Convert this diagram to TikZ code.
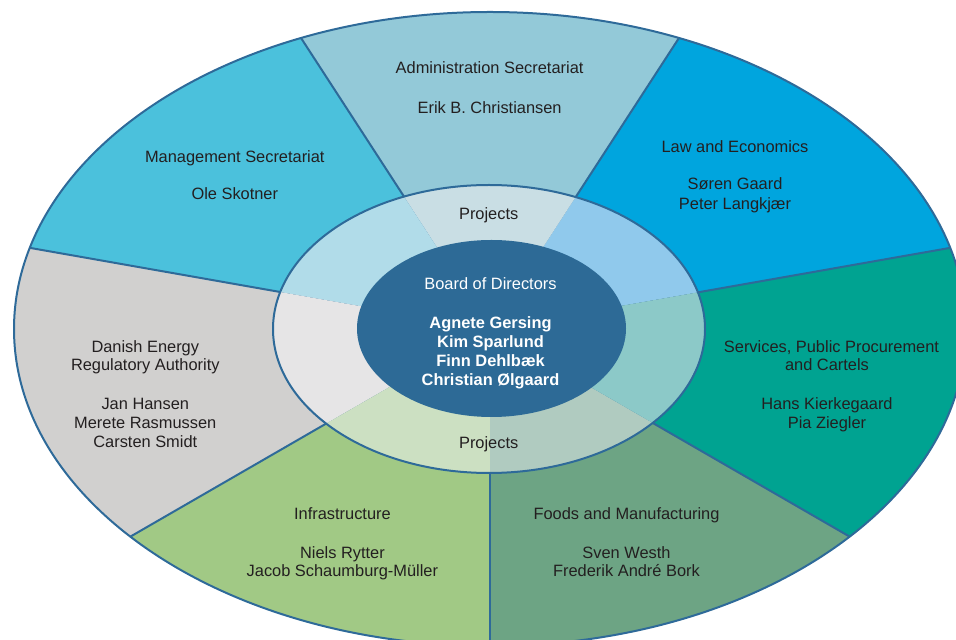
\documentclass[tikz,border=0pt]{standalone}
\usepackage{fontspec}
\setmainfont{Liberation Sans}
\usetikzlibrary{calc}
\definecolor{cAdm}{HTML}{93C9D8}
\definecolor{cMgmt}{HTML}{4BC1DC}
\definecolor{cLaw}{HTML}{00A5DE}
\definecolor{cServ}{HTML}{00A391}
\definecolor{cFood}{HTML}{6DA484}
\definecolor{cInfra}{HTML}{A1C985}
\definecolor{cDan}{HTML}{D1D0CF}
\definecolor{rAdm}{HTML}{C9DEE4}
\definecolor{rMgmt}{HTML}{B1DCE9}
\definecolor{rLaw}{HTML}{90C9EC}
\definecolor{rServ}{HTML}{8CC9C8}
\definecolor{rFood}{HTML}{B0CBC0}
\definecolor{rInfra}{HTML}{CCE0C2}
\definecolor{rDan}{HTML}{E6E5E6}
\definecolor{cInner}{HTML}{2D6A96}
\definecolor{lineblue}{HTML}{2E6A99}
\definecolor{txtc}{HTML}{231F20}
\newcommand\mysector[4]{%
  \fill[#1] (C) -- ($(C)+(#2:#4)$) -- ($(C)+({(#2+#3)/2}:#4)$) -- ($(C)+(#3:#4)$) -- cycle;}
\begin{document}
\begin{tikzpicture}[x=1pt,y=1pt,
  txt/.style={font=\fontsize{16.4}{19}\selectfont, text=txtc, inner sep=0pt, anchor=base},
  wtxt/.style={txt, text=white},
  btxt/.style={txt, text=white, font=\fontsize{16.4}{19}\selectfont\bfseries},
  edge/.style={draw=lineblue, line width=2pt}]
\useasboundingbox (0,0) rectangle (956,640);
\coordinate (C) at (490,311);
% outer sectors
\begin{scope}
  \clip (C) ellipse [x radius=476, y radius=317];
  \mysector{cLaw}{10}{57}{1000}
  \mysector{cAdm}{57}{123}{1000}
  \mysector{cMgmt}{123}{170}{1000}
  \mysector{cDan}{170}{210}{1000}
  \mysector{cInfra}{210}{270}{1000}
  \mysector{cFood}{270}{330}{1000}
  \mysector{cServ}{330}{370}{1000}
  \foreach \a in {10,57,123,170,210,270,330}
    \draw[edge] (C) -- ($(C)+(\a:1000)$);
\end{scope}
% ring sectors
\begin{scope}
  \clip (489,311) ellipse [x radius=216, y radius=144];
  \mysector{rLaw}{10}{57}{1000}
  \mysector{rAdm}{57}{123}{1000}
  \mysector{rMgmt}{123}{170}{1000}
  \mysector{rDan}{170}{210}{1000}
  \mysector{rInfra}{210}{270}{1000}
  \mysector{rFood}{270}{330}{1000}
  \mysector{rServ}{330}{370}{1000}
\end{scope}
\draw[edge] (489,311) ellipse [x radius=216, y radius=144];
\fill[cInner] (491.5,311.5) ellipse [x radius=134.5, y radius=88.5];
\draw[edge] (C) ellipse [x radius=476, y radius=317];
% texts
\node[txt] (adm1) at (489.6,566) {Administration Secretariat};
\node[txt] (adm2) at (489.6,526.7) {Erik B. Christiansen};
\node[txt] (mg1) at (234.8,477.3) {Management Secretariat};
\node[txt] (mg2) at (234.8,440) {Ole Skotner};
\node[txt] (law1) at (735,487.7) {Law and Economics};
\node[txt] (law2) at (735,450) {Søren Gaard};
\node[txt] (law3) at (735,430.7) {Peter Langkjær};
\node[txt] (pr1) at (488.7,420) {Projects};
\node[wtxt] (bd0) at (490.5,350) {Board of Directors};
\node[btxt] (bd1) at (490.5,311) {Agnete Gersing};
\node[btxt] (bd2) at (490.5,292.3) {Kim Sparlund};
\node[btxt] (bd3) at (490.5,273.3) {Finn Dehlbæk};
\node[btxt] (bd4) at (490.5,254.3) {Christian Ølgaard};
\node[txt] (pr2) at (488.7,191.3) {Projects};
\node[txt] (dk1) at (145.3,287.7) {Danish Energy};
\node[txt] (dk2) at (145.3,269) {Regulatory Authority};
\node[txt] (dk3) at (145.3,230) {Jan Hansen};
\node[txt] (dk4) at (145.3,211) {Merete Rasmussen};
\node[txt] (dk5) at (145.3,192.3) {Carsten Smidt};
\node[txt] (sv1) at (831.5,287.7) {Services, Public Procurement};
\node[txt] (sv2) at (827,269) {and Cartels};
\node[txt] (sv3) at (827,230) {Hans Kierkegaard};
\node[txt] (sv4) at (827,211) {Pia Ziegler};
\node[txt] (inf1) at (342.4,120) {Infrastructure};
\node[txt] (inf2) at (342.4,81.7) {Niels Rytter};
\node[txt] (inf3) at (342.4,63) {Jacob Schaumburg-Müller};
\node[txt] (fd1) at (626.5,120) {Foods and Manufacturing};
\node[txt] (fd2) at (626.5,81.7) {Sven Westh};
\node[txt] (fd3) at (626.5,63) {Frederik André Bork};
\end{tikzpicture}
\end{document}
